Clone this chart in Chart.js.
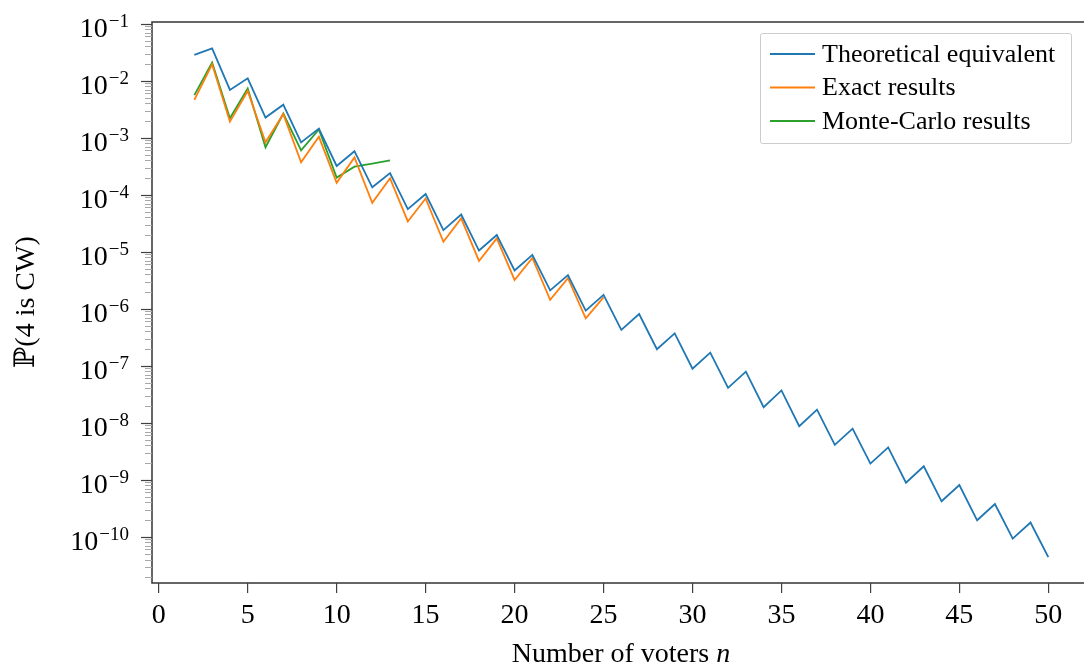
<!DOCTYPE html>
<html>
<head>
<meta charset="utf-8">
<script src="https://cdn.jsdelivr.net/npm/chart.js@4.4.1/dist/chart.umd.min.js"></script>
<style>
  html, body { margin: 0; padding: 0; background: #fff; overflow: hidden; }
  #wrap { width: 1100px; height: 668px; }
</style>
</head>
<body>
<div id="wrap"><canvas id="c" width="1100" height="668"></canvas></div>
<script>
// ---- data ----
const nTheory = [2,3,4,5,6,7,8,9,10,11,12,13,14,15,16,17,18,19,20,21,22,23,24,25,26,27,28,29,30,31,32,33,34,35,36,37,38,39,40,41,42,43,44,45,46,47,48,49,50];
const theoretical = [0.0283,0.037,0.0069,0.011,0.00226,0.0038,0.00083,0.00145,0.00032,0.00058,0.000135,0.00024,5.6e-5,1.03e-4,2.4e-5,4.5e-5,1.05e-5,1.97e-5,4.7e-6,8.8e-6,2.1e-6,3.9e-6,9.3e-7,1.75e-6,4.27e-7,8.1e-7,1.95e-7,3.7e-7,8.9e-8,1.7e-7,4.1e-8,7.9e-8,1.88e-8,3.7e-8,8.7e-9,1.7e-8,4.1e-9,7.9e-9,1.92e-9,3.7e-9,8.9e-10,1.73e-9,4.2e-10,8.1e-10,1.95e-10,3.76e-10,9.3e-11,1.78e-10,4.4e-11];
const nExact = [2,3,4,5,6,7,8,9,10,11,12,13,14,15,16,17,18,19,20,21,22,23,24,25];
const exact = [0.0046,0.0194,0.00192,0.0066,0.00083,0.0026,0.00037,0.00104,0.000162,0.00045,7.2e-5,0.000194,3.4e-5,8.6e-5,1.5e-5,3.85e-5,6.9e-6,1.72e-5,3.2e-6,7.8e-6,1.44e-6,3.45e-6,6.8e-7,1.58e-6];
const nMC = [2,3,4,5,6,7,8,9,10,11,12,13];
const monteCarlo = [0.0056,0.0208,0.0022,0.0073,0.00068,0.00266,0.0006,0.0014,0.0002,0.00031,0.00035,0.0004];
const seriesLabels = ["Theoretical equivalent", "Exact results", "Monte-Carlo results"];
const xTicks = [0,5,10,15,20,25,30,35,40,45,50];
const yExponents = [-1,-2,-3,-4,-5,-6,-7,-8,-9,-10];
const xTitle = ["Number of voters ", "n"];
const yTitle = "\u2119(4 is CW)";

const colors = ["#1f77b4", "#ff7f0e", "#2ca02c"];
const serif = "'Liberation Serif', 'DejaVu Serif', serif";

function pts(xs, ys) { return xs.map((x, i) => ({ x: x, y: ys[i] })); }

const decorPlugin = {
  id: 'decor',
  afterDraw(chart) {
    const ctx = chart.ctx;
    const ca = chart.chartArea;
    const ys = chart.scales.y;
    ctx.save();
    // spines
    ctx.strokeStyle = '#404040';
    ctx.lineWidth = 1.6;
    ctx.strokeRect(ca.left, ca.top, ca.right - ca.left, ca.bottom - ca.top);
    // y minor ticks
    ctx.strokeStyle = '#a8a8a8';
    ctx.lineWidth = 1;
    for (let d = -12; d <= 0; d++) {
      for (let k = 2; k <= 9; k++) {
        const v = k * Math.pow(10, d);
        if (v < ys.min || v > ys.max) continue;
        const py = Math.round(ys.getPixelForValue(v)) + 0.5;
        ctx.beginPath(); ctx.moveTo(ca.left - 7, py); ctx.lineTo(ca.left, py); ctx.stroke();
      }
    }
    // y major ticks + labels
    ctx.strokeStyle = '#404040';
    ctx.lineWidth = 1.2;
    const labelRight = 129;
    yExponents.forEach(e => {
      const v = Math.pow(10, e);
      const py = ys.getPixelForValue(v);
      ctx.beginPath(); ctx.moveTo(ca.left - 11, Math.round(py) + 0.5); ctx.lineTo(ca.left, Math.round(py) + 0.5); ctx.stroke();
      const expTxt = (e < 0 ? '\u2212' : '') + Math.abs(e);
      ctx.fillStyle = '#000';
      ctx.font = '19px ' + serif;
      ctx.textAlign = 'left';
      ctx.textBaseline = 'alphabetic';
      const ew = ctx.measureText(expTxt).width;
      const ex = labelRight - ew;
      ctx.fillText(expTxt, ex, py + 3);
      ctx.font = '28px ' + serif;
      ctx.textAlign = 'right';
      ctx.fillText('10', ex - 1, py + 13);
    });
    // x title
    ctx.fillStyle = '#000';
    ctx.textBaseline = 'alphabetic';
    ctx.font = '28px ' + serif;
    const w1 = ctx.measureText(xTitle[0]).width;
    ctx.font = 'italic 28px ' + serif;
    const w2 = ctx.measureText(xTitle[1]).width;
    const cx = (ca.left + 1084) / 2 + 3;
    const sx = cx - (w1 + w2) / 2;
    ctx.font = '28px ' + serif;
    ctx.textAlign = 'left';
    ctx.fillText(xTitle[0], sx, 662);
    ctx.font = 'italic 28px ' + serif;
    ctx.fillText(xTitle[1], sx + w1, 662);
    // y title
    ctx.save();
    ctx.translate(34, 302);
    ctx.rotate(-Math.PI / 2);
    ctx.font = '28px ' + serif;
    ctx.textAlign = 'center';
    ctx.textBaseline = 'alphabetic';
    ctx.fillText(yTitle, 0, 0);
    ctx.restore();
    // legend
    const lx = 760.5, ly = 33.5, lw = 311, lh = 110;
    ctx.fillStyle = 'rgba(255,255,255,0.85)';
    ctx.strokeStyle = '#cccccc';
    ctx.lineWidth = 1;
    ctx.beginPath();
    if (ctx.roundRect) ctx.roundRect(lx, ly, lw, lh, 2); else ctx.rect(lx, ly, lw, lh);
    ctx.fill(); ctx.stroke();
    chart.data.datasets.forEach((ds, i) => {
      const yy = 54 + i * 33.5;
      ctx.strokeStyle = ds.borderColor;
      ctx.lineWidth = 1.8;
      ctx.beginPath(); ctx.moveTo(770, yy); ctx.lineTo(815, yy); ctx.stroke();
      ctx.fillStyle = '#000';
      ctx.font = '26px ' + serif;
      ctx.textAlign = 'left';
      ctx.textBaseline = 'middle';
      ctx.fillText(ds.label, 822, yy + 1);
    });
    ctx.restore();
  }
};

new Chart(document.getElementById('c'), {
  type: 'line',
  data: {
    datasets: [
      { label: seriesLabels[0], data: pts(nTheory, theoretical), borderColor: colors[0] },
      { label: seriesLabels[1], data: pts(nExact, exact), borderColor: colors[1] },
      { label: seriesLabels[2], data: pts(nMC, monteCarlo), borderColor: colors[2] }
    ].map(d => Object.assign(d, { borderWidth: 1.8, pointRadius: 0, fill: false, tension: 0 }))
  },
  options: {
    responsive: false,
    animation: false,
    events: [],
    layout: { padding: { top: 22, right: 9, left: 0, bottom: 0 } },
    plugins: { legend: { display: false }, tooltip: { enabled: false } },
    scales: {
      x: {
        type: 'linear',
        min: -0.38,
        max: 52.4,
        afterBuildTicks: (s) => { s.ticks = xTicks.map(v => ({ value: v })); },
        afterFit: (s) => { s.height = 85; },
        grid: { drawOnChartArea: false, drawTicks: true, tickLength: 10, color: '#404040', lineWidth: 1.2 },
        border: { display: false },
        ticks: { font: { family: serif, size: 28 }, color: '#000', padding: 6, maxRotation: 0, autoSkip: false }
      },
      y: {
        type: 'logarithmic',
        min: Math.pow(10, -10.81),
        max: Math.pow(10, -0.97),
        afterFit: (s) => { s.width = 152; },
        grid: { display: false },
        border: { display: false },
        ticks: { display: false }
      }
    }
  },
  plugins: [decorPlugin]
});
</script>
</body>
</html>
